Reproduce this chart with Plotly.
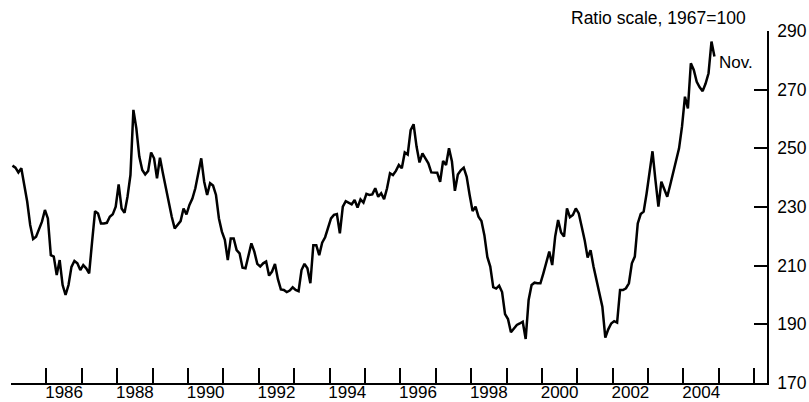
import plotly.graph_objects as go

# Monthly index values (1967=100), January 1985 through November 2004
v1985 = [244.1, 243.4, 241.8, 243.2, 237.5, 231.8, 223.9, 219.1, 219.9, 222.7, 225.0, 229.0]
v1986 = [226.1, 213.6, 213.1, 206.8, 211.9, 203.4, 200.0, 203.4, 209.6, 211.6, 210.8, 208.5]
v1987 = [210.2, 209.1, 207.4, 218.2, 228.6, 227.8, 224.4, 224.4, 224.6, 226.7, 227.5, 230.1]
v1988 = [237.7, 229.5, 228.0, 233.5, 240.9, 263.1, 256.8, 247.2, 242.6, 241.1, 242.3, 248.6]
v1989 = [246.6, 239.8, 246.8, 241.5, 236.4, 231.3, 226.7, 222.7, 224.1, 225.2, 229.5, 227.5]
v1990 = [230.7, 232.9, 236.4, 241.5, 246.6, 238.6, 234.1, 238.1, 237.3, 234.1, 226.1, 221.6]
v1991 = [218.8, 211.9, 219.3, 219.3, 215.3, 214.2, 209.3, 209.1, 213.6, 217.6, 214.8, 210.6]
v1992 = [209.7, 210.8, 211.4, 206.6, 208.0, 210.6, 205.4, 201.9, 201.7, 201.0, 201.5, 202.6]
v1993 = [201.7, 201.3, 208.5, 210.6, 209.1, 204.0, 217.0, 217.0, 213.6, 217.8, 219.7, 222.7]
v1994 = [226.1, 227.3, 227.6, 221.0, 230.1, 232.0, 231.3, 230.9, 232.4, 229.8, 232.6, 231.5]
v1995 = [234.5, 234.1, 234.3, 236.4, 233.5, 234.7, 232.7, 236.4, 241.5, 240.9, 242.3, 244.3]
v1996 = [243.2, 248.6, 247.9, 256.2, 258.2, 250.6, 245.2, 248.3, 246.6, 244.9, 241.8, 241.8]
v1997 = [241.7, 238.6, 245.7, 244.3, 250.0, 245.5, 235.5, 241.1, 242.5, 243.4, 240.3, 234.1]
v1998 = [228.6, 230.1, 226.7, 225.2, 220.4, 213.0, 209.7, 202.7, 202.2, 203.2, 201.0, 193.5]
v1999 = [191.8, 187.3, 188.6, 189.8, 190.3, 190.9, 185.0, 198.3, 203.4, 204.2, 204.0, 204.0]
v2000 = [207.4, 210.8, 214.8, 210.2, 219.9, 225.6, 221.3, 219.9, 229.5, 226.5, 227.3, 229.5]
v2001 = [227.8, 223.3, 218.7, 212.8, 215.3, 209.7, 205.1, 200.6, 196.0, 185.5, 188.3, 190.3]
v2002 = [191.1, 190.6, 201.7, 201.7, 202.3, 204.0, 210.8, 213.1, 224.4, 227.6, 228.4, 234.6]
v2003 = [241.5, 249.0, 239.2, 230.1, 238.6, 235.8, 233.5, 237.5, 241.5, 245.5, 250.0, 257.4]
v2004 = [267.6, 263.6, 279.0, 276.7, 272.7, 270.8, 269.5, 272.1, 275.6, 286.4, 281.3]

years = list(range(1985, 2005))
yearly = [v1985, v1986, v1987, v1988, v1989, v1990, v1991, v1992, v1993, v1994,
          v1995, v1996, v1997, v1998, v1999, v2000, v2001, v2002, v2003, v2004]

y_ticks = [170, 190, 210, 230, 250, 270, 290]
x_label_years = list(range(1986, 2005, 2))
x_tick_years = list(range(1986, 2007))

# Decimal-year positions at mid-month
t, vals = [], []
for yr, row in zip(years, yearly):
    for i, v in enumerate(row):
        t.append(yr + (i + 0.5) / 12)
        vals.append(v)

FONT = "Liberation Sans"
FS_X = 17
FS_Y = 17.5
FS_NOTE = 17.5
Y_RANGE = [170, 290]

fig = go.Figure()
fig.add_trace(go.Scatter(x=t, y=vals, mode="lines",
                         line=dict(color="black", width=2.5),
                         hoverinfo="skip", showlegend=False))

fig.update_layout(
    width=809, height=402,
    margin=dict(l=11, r=42, t=31, b=19, autoexpand=False),
    paper_bgcolor="white", plot_bgcolor="white",
    font=dict(family=FONT, size=FS_X, color="black"),
    showlegend=False,
    xaxis=dict(
        range=[1985, 2006.36], showgrid=False, zeroline=False,
        showline=True, linecolor="black", linewidth=1.5,
        tickmode="array", tickvals=[y + 0.5 for y in x_label_years],
        ticktext=[str(y) for y in x_label_years],
        tickfont=dict(family=FONT, size=FS_X, color="black"),
        ticks="", automargin=False, ticklabelstandoff=-7,
        minor=dict(tickmode="array", tickvals=x_tick_years, ticks="inside",
                   ticklen=15, tickwidth=2, tickcolor="black", showgrid=False),
    ),
    yaxis=dict(
        range=Y_RANGE, side="right", showgrid=False, zeroline=False,
        showline=True, linecolor="black", linewidth=1.5,
        tickmode="array", tickvals=y_ticks, ticktext=[str(v) for v in y_ticks],
        tickfont=dict(family=FONT, size=FS_Y, color="black"),
        ticks="inside", ticklen=13, tickwidth=2, tickcolor="black",
        automargin=False, ticklabelstandoff=5,
    ),
    yaxis2=dict(
        range=Y_RANGE, side="right", overlaying="y", anchor="x",
        showgrid=False, zeroline=False, showline=False,
        tickmode="array", tickvals=[290], showticklabels=False,
        ticks="inside", ticklen=21, tickwidth=2, tickcolor="black",
    ),
    yaxis3=dict(
        range=Y_RANGE, side="left", overlaying="y", anchor="x",
        showgrid=False, zeroline=False,
        showline=True, linecolor="black", linewidth=1.5,
        tickmode="array", tickvals=y_ticks[1:-1], showticklabels=False,
        ticks="inside", ticklen=13, tickwidth=2, tickcolor="black",
    ),
    yaxis4=dict(
        range=Y_RANGE, side="left", overlaying="y", anchor="x",
        showgrid=False, zeroline=False, showline=False,
        tickmode="array", tickvals=[290], showticklabels=False,
        ticks="inside", ticklen=21, tickwidth=2, tickcolor="black",
    ),
)

fig.add_annotation(text="Ratio scale, 1967=100", xref="paper", yref="paper",
                   x=(748 - 11) / 756, y=(383 - 18) / 352,
                   xanchor="right", yanchor="middle", showarrow=False,
                   font=dict(family=FONT, size=FS_NOTE, color="black"))
fig.add_annotation(text="Nov.", xref="x", yref="y",
                   x=t[-1] + 0.08, y=vals[-1] - 2.2,
                   xanchor="left", yanchor="middle", showarrow=False,
                   font=dict(family=FONT, size=FS_X, color="black"))

fig.write_html("out.html")
